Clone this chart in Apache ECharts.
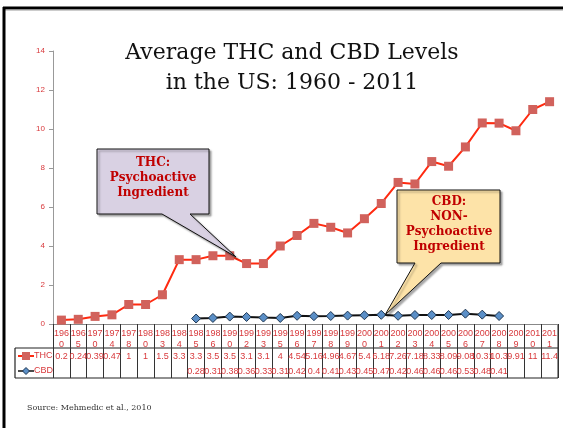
<!DOCTYPE html>
<html>
<head>
<meta charset="utf-8">
<script src="https://cdn.jsdelivr.net/npm/echarts@6/dist/echarts.min.js"></script>
<style>
  html, body { margin: 0; padding: 0; background: #fff; }
  #chart { width: 563px; height: 428px; }
</style>
</head>
<body>
<div id="chart"></div>
<script>
// 年份（表格表头）
const years = ['1960', '1965', '1970', '1974', '1978', '1980', '1983', '1984', '1985', '1986',
  '1990', '1992', '1993', '1995', '1996', '1997', '1998', '1999', '2000', '2001',
  '2002', '2003', '2004', '2005', '2006', '2007', '2008', '2009', '2010', '2011'];
// THC 平均含量
const thc = [0.2, 0.24, 0.39, 0.47, 1, 1, 1.5, 3.3, 3.3, 3.5,
  3.5, 3.1, 3.1, 4, 4.54, 5.16, 4.96, 4.67, 5.4, 6.18,
  7.26, 7.18, 8.33, 8.09, 9.08, 10.31, 10.3, 9.91, 11, 11.4];
// CBD 平均含量（1985 之前、2009 之后无数据）
const cbd = [null, null, null, null, null, null, null, null, 0.28, 0.31,
  0.38, 0.36, 0.33, 0.31, 0.42, 0.4, 0.41, 0.43, 0.45, 0.47,
  0.42, 0.46, 0.46, 0.46, 0.53, 0.48, 0.41, null, null, null];

const red = '#d8393c';
const serif = 'DejaVu Serif';
const sans = 'Liberation Sans';

const chart = echarts.init(document.getElementById('chart'));

const option = {
  animation: false,
  grid: { left: 53, right: 5, top: 51, bottom: 104 },
  xAxis: [
    {
      type: 'category',
      data: years,
      position: 'bottom',
      axisLine: { lineStyle: { color: '#888', width: 1 } },
      axisTick: { show: true, length: 54, lineStyle: { color: '#333', width: 1 } },
      axisLabel: {
        interval: 0,
        margin: 4,
        color: red,
        fontSize: 9,
        lineHeight: 11,
        fontFamily: sans,
        formatter: v => v.slice(0, 3) + '\n' + v.slice(3)
      }
    },
    {
      // THC 数值行
      type: 'category',
      data: years,
      position: 'bottom',
      offset: 28,
      axisLine: { show: false },
      axisTick: { show: false },
      axisLabel: {
        interval: 0, margin: 0, color: red, fontSize: 9, fontFamily: sans,
        formatter: (v, i) => String(thc[i])
      }
    },
    {
      // CBD 数值行
      type: 'category',
      data: years,
      position: 'bottom',
      offset: 43,
      axisLine: { show: false },
      axisTick: { show: false },
      axisLabel: {
        interval: 0, margin: 0, color: red, fontSize: 9, fontFamily: sans,
        formatter: (v, i) => (cbd[i] == null ? '' : String(cbd[i]))
      }
    }
  ],
  yAxis: {
    type: 'value',
    min: 0,
    max: 14,
    interval: 2,
    axisLine: { show: true, lineStyle: { color: '#999' } },
    axisTick: { show: true, length: 4, lineStyle: { color: '#999' } },
    axisLabel: { color: red, fontSize: 8, fontFamily: sans, margin: 8 },
    splitLine: { show: false }
  },
  series: [
    {
      name: 'THC',
      type: 'line',
      data: thc,
      symbol: 'rect',
      symbolSize: 9,
      lineStyle: { color: '#ff2a10', width: 2 },
      itemStyle: { color: '#d1625c' },
      z: 3
    },
    {
      name: 'CBD',
      type: 'line',
      data: cbd,
      symbol: 'diamond',
      symbolSize: 9,
      lineStyle: { color: '#111', width: 2 },
      itemStyle: { color: '#5b8fc7', borderColor: '#1d3550', borderWidth: 1 },
      z: 3
    }
  ],
  graphic: [
    // 幻灯片边框
    { type: 'line', shape: { x1: 3, y1: 8, x2: 563, y2: 8 }, style: { stroke: '#000', lineWidth: 3 } },
    { type: 'line', shape: { x1: 3, y1: 10, x2: 563, y2: 10 }, style: { stroke: '#999', lineWidth: 1 } },
    { type: 'line', shape: { x1: 4, y1: 7, x2: 4, y2: 428 }, style: { stroke: '#000', lineWidth: 3 } },
    // 标题
    {
      type: 'text', x: 292, y: 38,
      style: {
        text: 'Average THC and CBD Levels\nin the US: 1960 - 2011',
        fill: '#111', font: '22px "' + serif + '"', align: 'center', lineHeight: 30
      }
    },
    // 表格横线与图例单元格
    { type: 'line', shape: { x1: 15, y1: 348, x2: 558, y2: 348 }, style: { stroke: '#222', lineWidth: 1.2 } },
    { type: 'line', shape: { x1: 15, y1: 378, x2: 558, y2: 378 }, style: { stroke: '#222', lineWidth: 1.2 } },
    { type: 'line', shape: { x1: 15, y1: 348, x2: 15, y2: 378 }, style: { stroke: '#222', lineWidth: 1.2 } },
    { type: 'line', shape: { x1: 558, y1: 324, x2: 558, y2: 378 }, style: { stroke: '#222', lineWidth: 1 } },
    { type: 'line', shape: { x1: 18, y1: 356, x2: 34, y2: 356 }, style: { stroke: '#ff2a10', lineWidth: 2 } },
    { type: 'rect', shape: { x: 22, y: 352, width: 8, height: 8 }, style: { fill: '#d1625c' } },
    { type: 'text', x: 34, y: 351, style: { text: 'THC', fill: red, font: '9px "' + sans + '"' } },
    { type: 'line', shape: { x1: 18, y1: 371, x2: 34, y2: 371 }, style: { stroke: '#111', lineWidth: 1.5 } },
    { type: 'polygon', shape: { points: [[26, 367.5], [29.5, 371], [26, 374.5], [22.5, 371]] }, style: { fill: '#5b8fc7', stroke: '#1d3550', lineWidth: 1 } },
    { type: 'text', x: 34, y: 366, style: { text: 'CBD', fill: red, font: '9px "' + sans + '"' } },
    // THC 标注框
    {
      type: 'polygon',
      shape: { points: [[97, 149], [209, 149], [209, 214], [190, 214], [236, 257], [162, 214], [97, 214]] },
      style: { fill: '#d9d1e3', stroke: '#111', lineWidth: 1, shadowBlur: 2, shadowOffsetX: 2, shadowOffsetY: 2, shadowColor: 'rgba(0,0,0,0.35)' },
      z: 10
    },
    {
      type: 'text', x: 153, y: 155, z: 11,
      style: { text: 'THC:\nPsychoactive\nIngredient', fill: '#c00000', font: 'bold 12px "' + serif + '"', align: 'center', lineHeight: 15 }
    },
    // CBD 标注框
    {
      type: 'polygon',
      shape: { points: [[397, 190], [500, 190], [500, 263], [441, 263], [385, 315], [415, 263], [397, 263]] },
      style: { fill: '#fde3a8', stroke: '#111', lineWidth: 1, shadowBlur: 2, shadowOffsetX: 2, shadowOffsetY: 2, shadowColor: 'rgba(0,0,0,0.35)' },
      z: 10
    },
    {
      type: 'text', x: 449, y: 194, z: 11,
      style: { text: 'CBD:\nNON-\nPsychoactive\nIngredient', fill: '#c00000', font: 'bold 12px "' + serif + '"', align: 'center', lineHeight: 15 }
    },
    // 资料来源
    {
      type: 'text', x: 27, y: 404,
      style: { text: 'Source: Mehmedic et al., 2010', fill: '#333', font: '8px "' + serif + '"' }
    }
  ]
};

chart.setOption(option);
</script>
</body>
</html>
